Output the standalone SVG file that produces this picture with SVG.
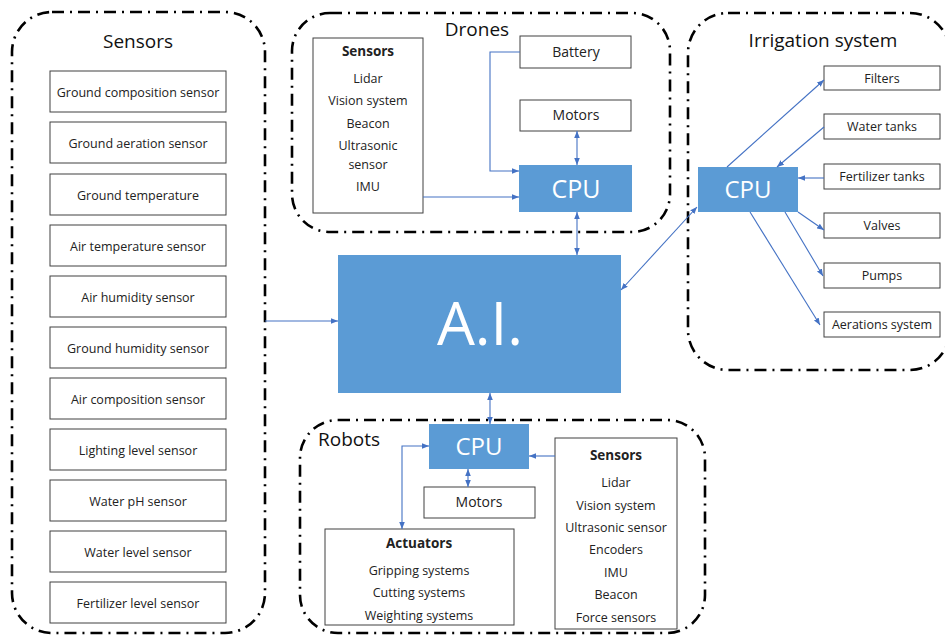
<svg xmlns="http://www.w3.org/2000/svg" width="945" height="635" viewBox="0 0 945 635">
<defs>
<marker id="ah" viewBox="0 0 10 10" refX="10" refY="5" markerWidth="7" markerHeight="7" orient="auto-start-reverse" markerUnits="userSpaceOnUse">
<path d="M0,1 L10,5 L0,9 z" fill="#4472C4"/>
</marker>
<style>
.cont{fill:none;stroke:#000;stroke-width:2.6;stroke-dasharray:12 6 2 6}
.box{fill:#fff;stroke:#404040;stroke-width:1}
.blue{fill:#5B9BD5;stroke:none}
.t{font-family:"Open Sans","Liberation Sans",sans-serif;font-size:12.5px;fill:#222;text-anchor:middle}
.m{font-size:14px}
.b{font-weight:bold;font-size:13.5px}
.h{font-family:"Open Sans","Liberation Sans",sans-serif;font-size:19px;fill:#111;text-anchor:middle}
.w{font-family:"Open Sans","Liberation Sans",sans-serif;fill:#fff;text-anchor:middle}
.c{fill:none;stroke:#4472C4;stroke-width:1.1}
</style>
</defs>
<rect width="945" height="635" fill="#fff"/>

<g id="sensors-group">
<rect class="cont" x="12" y="12" width="253" height="621" rx="40"/>
<text class="h" x="138" y="48">Sensors</text>
</g>
<g id="s1"><rect class="box" x="50" y="71" width="176" height="41"/><text class="t" x="138" y="97">Ground composition sensor</text></g>
<g id="s2"><rect class="box" x="50" y="122" width="176" height="41"/><text class="t" x="138" y="148">Ground aeration sensor</text></g>
<g id="s3"><rect class="box" x="50" y="174" width="176" height="41"/><text class="t" x="138" y="200">Ground temperature</text></g>
<g id="s4"><rect class="box" x="50" y="225" width="176" height="41"/><text class="t" x="138" y="251">Air temperature sensor</text></g>
<g id="s5"><rect class="box" x="50" y="276" width="176" height="41"/><text class="t" x="138" y="302">Air humidity sensor</text></g>
<g id="s6"><rect class="box" x="50" y="327" width="176" height="41"/><text class="t" x="138" y="353">Ground humidity sensor</text></g>
<g id="s7"><rect class="box" x="50" y="378" width="176" height="41"/><text class="t" x="138" y="404">Air composition sensor</text></g>
<g id="s8"><rect class="box" x="50" y="429" width="176" height="41"/><text class="t" x="138" y="455">Lighting level sensor</text></g>
<g id="s9"><rect class="box" x="50" y="480" width="176" height="41"/><text class="t" x="138" y="506">Water pH sensor</text></g>
<g id="s10"><rect class="box" x="50" y="531" width="176" height="41"/><text class="t" x="138" y="557">Water level sensor</text></g>
<g id="s11"><rect class="box" x="50" y="582" width="176" height="41"/><text class="t" x="138" y="608">Fertilizer level sensor</text></g>

<g id="drones-group">
<rect class="cont" x="292" y="13" width="378" height="219" rx="38"/>
<text class="h" x="477" y="36">Drones</text>
</g>
<g id="d-sensors"><rect class="box" x="313" y="38" width="110" height="175"/>
<text class="t b" x="368" y="56">Sensors</text>
<text class="t" x="368" y="83">Lidar</text>
<text class="t" x="368" y="105">Vision system</text>
<text class="t" x="368" y="128">Beacon</text>
<text class="t" x="368" y="150">Ultrasonic</text>
<text class="t" x="368" y="169">sensor</text>
<text class="t" x="368" y="191">IMU</text>
</g>
<g id="d-battery"><rect class="box" x="520" y="36" width="111" height="32"/><text class="t m" x="576" y="57">Battery</text></g>
<g id="d-motors"><rect class="box" x="520" y="100" width="111" height="31"/><text class="t m" x="576" y="120">Motors</text></g>
<g id="d-cpu"><rect class="blue" x="519" y="165" width="113" height="47"/><text class="w" x="576" y="198" font-size="25">CPU</text></g>

<g id="ai"><rect class="blue" x="338" y="255" width="283" height="138"/><text class="w" x="480" y="345" font-size="60">A.I.</text></g>

<g id="irrigation-group">
<rect class="cont" x="688" y="13" width="262" height="357" rx="40"/>
<text class="h" x="823" y="47">Irrigation system</text>
</g>
<g id="i-cpu"><rect class="blue" x="698" y="167" width="100" height="45"/><text class="w" x="748" y="198" font-size="24">CPU</text></g>
<g id="i-filters"><rect class="box" x="824" y="66" width="116" height="24"/><text class="t" x="882" y="83">Filters</text></g>
<g id="i-water"><rect class="box" x="824" y="114" width="116" height="25"/><text class="t" x="882" y="131">Water tanks</text></g>
<g id="i-fert"><rect class="box" x="824" y="164" width="116" height="25"/><text class="t" x="882" y="181">Fertilizer tanks</text></g>
<g id="i-valves"><rect class="box" x="824" y="213" width="116" height="25"/><text class="t" x="882" y="230">Valves</text></g>
<g id="i-pumps"><rect class="box" x="824" y="263" width="116" height="25"/><text class="t" x="882" y="280">Pumps</text></g>
<g id="i-aer"><rect class="box" x="824" y="312" width="116" height="25"/><text class="t" x="882" y="329">Aerations system</text></g>

<g id="robots-group">
<rect class="cont" x="300" y="420" width="405" height="213" rx="38"/>
<text class="h" x="349" y="446">Robots</text>
</g>
<g id="r-cpu"><rect class="blue" x="429" y="424" width="100" height="45"/><text class="w" x="479" y="455" font-size="24">CPU</text></g>
<g id="r-motors"><rect class="box" x="424" y="487" width="111" height="31"/><text class="t m" x="479" y="507">Motors</text></g>
<g id="r-act"><rect class="box" x="325" y="529" width="189" height="96"/>
<text class="t b" x="419" y="548">Actuators</text>
<text class="t" x="419" y="575">Gripping systems</text>
<text class="t" x="419" y="597">Cutting systems</text>
<text class="t" x="419" y="620">Weighting systems</text>
</g>
<g id="r-sensors"><rect class="box" x="555" y="438" width="122" height="191"/>
<text class="t b" x="616" y="460">Sensors</text>
<text class="t" x="616" y="487">Lidar</text>
<text class="t" x="616" y="510">Vision system</text>
<text class="t" x="616" y="532">Ultrasonic sensor</text>
<text class="t" x="616" y="554">Encoders</text>
<text class="t" x="616" y="577">IMU</text>
<text class="t" x="616" y="599">Beacon</text>
<text class="t" x="616" y="622">Force sensors</text>
</g>

<g id="connectors">
<path class="c" d="M265,321 L338,321" marker-end="url(#ah)"/>
<path class="c" d="M577,212 L577,255" marker-start="url(#ah)" marker-end="url(#ah)"/>
<path class="c" d="M697,207 L621,290" marker-start="url(#ah)" marker-end="url(#ah)"/>
<path class="c" d="M490,424 L490,393" marker-start="url(#ah)" marker-end="url(#ah)"/>
<path class="c" d="M520,52 L490,52 L490,171 L519,171" marker-end="url(#ah)"/>
<path class="c" d="M577,131 L577,165" marker-start="url(#ah)" marker-end="url(#ah)"/>
<path class="c" d="M423,197 L519,197" marker-end="url(#ah)"/>
<path class="c" d="M727,167 L824,80" marker-end="url(#ah)"/>
<path class="c" d="M824,127 L777,167" marker-end="url(#ah)"/>
<path class="c" d="M824,178 L798,178" marker-end="url(#ah)"/>
<path class="c" d="M798,212 L824,230" marker-end="url(#ah)"/>
<path class="c" d="M785,212 L823,276" marker-end="url(#ah)"/>
<path class="c" d="M750,212 L820,325" marker-end="url(#ah)"/>
<path class="c" d="M555,456 L529,456" marker-end="url(#ah)"/>
<path class="c" d="M468,469 L468,487" marker-start="url(#ah)" marker-end="url(#ah)"/>
<path class="c" d="M402,529 L402,446 L429,446" marker-start="url(#ah)" marker-end="url(#ah)"/>
</g>
</svg>
